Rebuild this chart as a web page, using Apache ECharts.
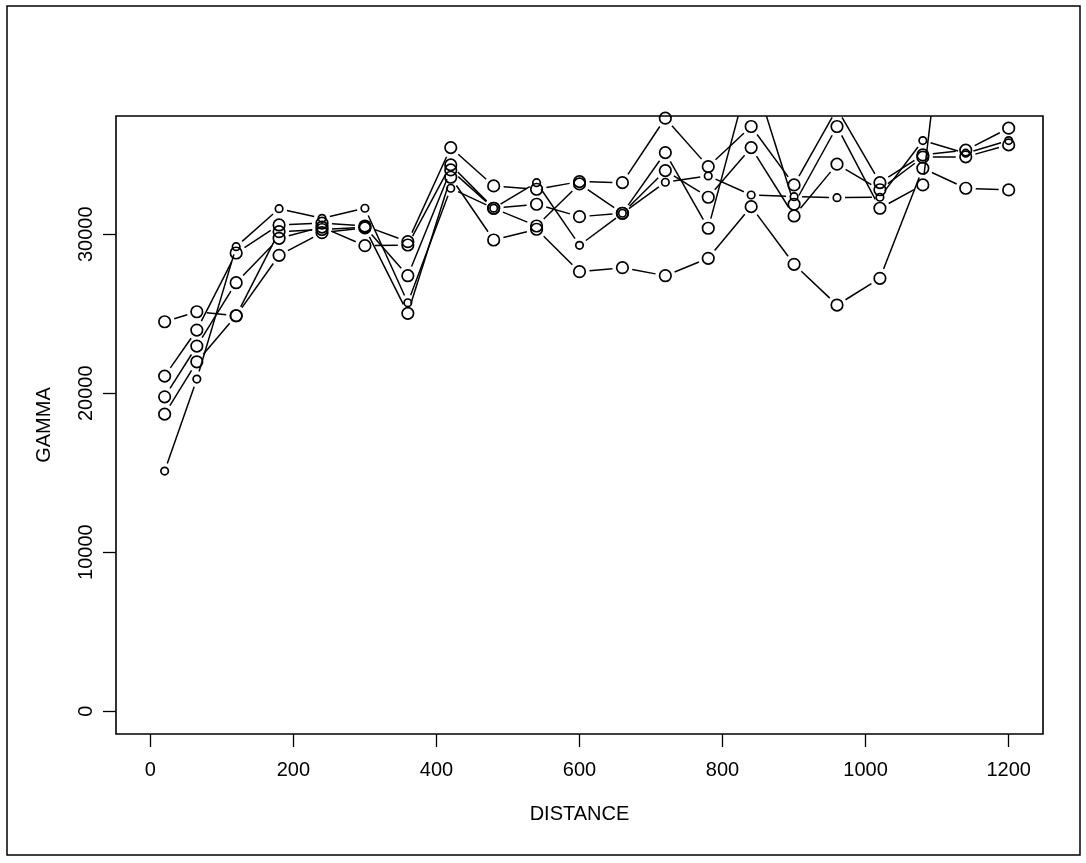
<!DOCTYPE html>
<html>
<head>
<meta charset="utf-8">
<script src="https://cdn.jsdelivr.net/npm/echarts@6/dist/echarts.min.js"></script>
<style>
  html, body { margin: 0; padding: 0; background: #fff; }
  #chart { width: 1086px; height: 863px; }
</style>
</head>
<body>
<div id="chart"></div>
<script>
// ---- data ----
const distance = [20, 65, 120, 180, 240, 300, 360, 420, 480, 540, 600, 660, 720, 780, 840, 900, 960, 1020, 1080, 1140, 1200];
const gammaA = [21076, 23973, 28821, 30585, 30700, 30521, 29533, 35452, 33040, 32833, 33311, 33248, 37303, 34256, 36780, 33103, 37900, 33248, 34992, 35293, 36674];
const gammaB = [19773, 22965, 26951, 29747, 30450, 29281, 29325, 34363, 31636, 31888, 31107, 31321, 35137, 30377, 40500, 31888, 36780, 31636, 33103, 56000, 55000];
const gammaC = [18683, 21977, 24873, 30163, 30300, 30450, 27392, 34048, 31636, 30521, 33166, 31321, 34004, 32329, 35452, 31151, 34410, 32800, 34848, 34874, 35622];
const gammaD = [24495, 25125, 24873, 28676, 30100, 30400, 25024, 33588, 29640, 30314, 27644, 27896, 27392, 28488, 31737, 28110, 25547, 27228, 34155, 32893, 32788];
const gammaS = [15100, 20888, 29218, 31611, 31000, 31636, 25692, 32896, 31640, 33248, 29306, 31321, 33273, 33670, 32470, 32367, 32300, 32329, 35893, 35100, 35893];
const xTicks = [0, 200, 400, 600, 800, 1000, 1200];
const yTicks = [0, 10000, 20000, 30000];

const FONT = '"Liberation Sans", Arial, Helvetica, sans-serif';

function segSeries(ys, gap) {
  const data = [];
  for (let i = 0; i < distance.length - 1; i++) {
    data.push([distance[i], ys[i], distance[i + 1], ys[i + 1]]);
  }
  return {
    type: 'custom',
    data: data,
    clip: true,
    silent: true,
    encode: { x: [0, 2], y: [1, 3] },
    renderItem: function (params, api) {
      const p1 = api.coord([api.value(0), api.value(1)]);
      const p2 = api.coord([api.value(2), api.value(3)]);
      const dx = p2[0] - p1[0], dy = p2[1] - p1[1];
      const L = Math.hypot(dx, dy);
      if (L <= 2 * gap) return null;
      const ux = dx / L, uy = dy / L;
      return {
        type: 'line',
        shape: { x1: p1[0] + ux * gap, y1: p1[1] + uy * gap, x2: p2[0] - ux * gap, y2: p2[1] - uy * gap },
        style: { stroke: '#000', lineWidth: 1.5 }
      };
    }
  };
}

function pointSeries(ys, size) {
  return {
    type: 'scatter',
    data: distance.map((x, i) => [x, ys[i]]),
    symbol: 'circle',
    symbolSize: size,
    clip: true,
    silent: true,
    itemStyle: { color: 'rgba(0,0,0,0)', borderColor: '#000', borderWidth: 1.7, opacity: 1 }
  };
}

const series = [];
[gammaA, gammaB, gammaC, gammaD].forEach(ys => {
  series.push(segSeries(ys, 10));
  series.push(pointSeries(ys, 11.5));
});
series.push(segSeries(gammaS, 8));
series.push(pointSeries(gammaS, 7.5));

const plain = v => String(v);

const chart = echarts.init(document.getElementById('chart'), null, { renderer: 'canvas' });
chart.setOption({
  animation: false,
  backgroundColor: '#fff',
  grid: {
    left: 116, right: 43, top: 116, bottom: 129,
    show: true, borderColor: '#000', borderWidth: 1.6, backgroundColor: 'transparent'
  },
  xAxis: {
    type: 'value', min: -48, max: 1248,
    name: 'DISTANCE', nameLocation: 'middle', nameGap: 70,
    nameTextStyle: { fontFamily: FONT, fontSize: 20, color: '#000' },
    axisLine: { show: false, onZero: false },
    splitLine: { show: false },
    axisTick: { show: true, inside: false, length: 13, customValues: xTicks, lineStyle: { color: '#000', width: 1.3 } },
    axisLabel: { show: true, customValues: xTicks, margin: 26, formatter: plain, fontFamily: FONT, fontSize: 20, color: '#000' }
  },
  yAxis: {
    type: 'value', min: -1440, max: 37440,
    name: 'GAMMA', nameLocation: 'middle', nameGap: 62, nameRotate: 90,
    nameTextStyle: { fontFamily: FONT, fontSize: 20, color: '#000' },
    axisLine: { show: false, onZero: false },
    splitLine: { show: false },
    axisTick: { show: true, inside: false, length: 13, customValues: yTicks, lineStyle: { color: '#000', width: 1.3 } },
    axisLabel: { show: true, customValues: yTicks, rotate: 90, margin: 20, formatter: plain, fontFamily: FONT, fontSize: 20, color: '#000' }
  },
  graphic: [{
    type: 'rect', silent: true,
    shape: { x: 7, y: 6, width: 1073, height: 849 },
    style: { fill: 'none', stroke: '#000', lineWidth: 1.5 }
  }],
  series: series
});
</script>
</body>
</html>
